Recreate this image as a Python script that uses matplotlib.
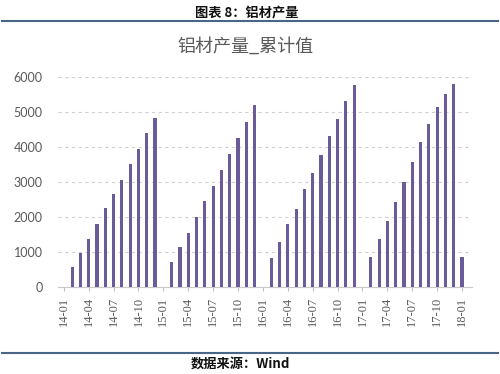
import numpy as np
import matplotlib
matplotlib.use("Agg")
import matplotlib.pyplot as plt

plt.rcParams['font.family'] = ['Noto Sans CJK SC', 'DejaVu Sans']

months = [f"{y:02d}-{m:02d}" for y in range(14, 18) for m in range(1, 13)] + ["18-01"]
values = [
    np.nan, 573, 975, 1357, 1796, 2255, 2656, 3057, 3506, 3936, 4395, 4825,
    np.nan, 697, 1127, 1538, 1987, 2465, 2885, 3344, 3802, 4251, 4729, 5216,
    np.nan, 812, 1280, 1796, 2236, 2790, 3248, 3783, 4318, 4796, 5322, 5780,
    np.nan, 841, 1366, 1882, 2427, 3000, 3564, 4137, 4672, 5159, 5522, 5809,
    860,
]
title = "铝材产量_累计值"
header = "图表 8：铝材产量"
footer = "数据来源：Wind"

fig = plt.figure(figsize=(5, 3.74), dpi=100)
ax = fig.add_axes([0.116, 0.2334, 0.828, 0.56])

x = np.arange(len(months))
vals = np.array(values, dtype=float)
mask = ~np.isnan(vals)
ax.bar(x[mask], vals[mask], width=0.38, color='#6b5b98', zorder=3)

ax.set_xlim(-0.7, 49.2)
ax.set_ylim(0, 6000)
ax.set_yticks(range(0, 6001, 1000))
ax.tick_params(axis='y', length=0, labelsize=9, labelcolor='#595959', pad=11)
for lbl in ax.get_yticklabels():
    lbl.set_family(['Lato', 'DejaVu Sans'])
ax.set_xticks(x[::3])
ax.set_xticklabels(months[::3], rotation=90, fontsize=9, color='#595959',
                   family=['Liberation Serif', 'DejaVu Serif'])
ax.tick_params(axis='x', length=3, color='#bfbfbf', pad=4)

ax.grid(axis='y', linestyle=(0, (3, 3)), color='#d0d0d0', linewidth=0.8, zorder=0)
for s in ['top', 'right', 'left']:
    ax.spines[s].set_visible(False)
ax.spines['bottom'].set_color('#c8c8c8')
ax.spines['bottom'].set_linewidth(0.8)

fig.text(0.49, 1 - 47 / 374, title, ha='center', va='center', fontsize=13, color='#595959')
fig.text(0.494, 1 - 13 / 374, header, ha='center', va='center', fontsize=9.5, fontweight='bold', color='#111111')
fig.text(0.48, 1 - 364 / 374, footer, ha='center', va='center', fontsize=9.5, fontweight='bold', color='#111111')

fig.add_artist(plt.Line2D([0.004, 0.996], [1 - 20.5 / 374] * 2, color='#4a6585', linewidth=1.5))
fig.add_artist(plt.Line2D([0.004, 0.996], [1 - 353 / 374] * 2, color='#4a6585', linewidth=1.5))

fig.savefig('out.png', dpi=100)
